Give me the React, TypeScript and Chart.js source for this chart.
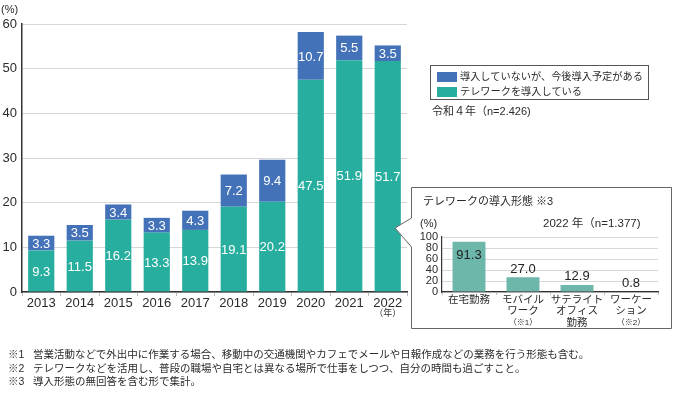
import React, { useEffect, useRef } from 'react';
import { Chart, registerables } from 'chart.js';

Chart.register(...registerables);

// ---- data ----
const years = ['2013', '2014', '2015', '2016', '2017', '2018', '2019', '2020', '2021', '2022'];
const introduced = [9.3, 11.5, 16.2, 13.3, 13.9, 19.1, 20.2, 47.5, 51.9, 51.7];
const planned = [3.3, 3.5, 3.4, 3.3, 4.3, 7.2, 9.4, 10.7, 5.5, 3.5];
const seriesNames = ['導入していないが、今後導入予定がある', 'テレワークを導入している'];
const formCategories = [
  ['在宅勤務'],
  ['モバイル', 'ワーク', '（※1）'],
  ['サテライト', 'オフィス', '勤務'],
  ['ワーケー', 'ション', '（※2）'],
];
const formValues = [91.3, 27.0, 12.9, 0.8];
const footnotes = [
  ['※1', '営業活動などで外出中に作業する場合、移動中の交通機関やカフェでメールや日報作成などの業務を行う形態も含む。'],
  ['※2', 'テレワークなどを活用し、普段の職場や自宅とは異なる場所で仕事をしつつ、自分の時間も過ごすこと。'],
  ['※3', '導入形態の無回答を含む形で集計。'],
];

const BLUE = '#4472b8';
const TEAL = '#27ae9f';
const INSET = '#6cb7aa';
const LAT = '"Liberation Sans", Arial, sans-serif';
const JP = '"Liberation Sans", "Noto Sans CJK JP", sans-serif';
const TXT = '#2b2b2b';

const mainLabels = {
  id: 'mainLabels',
  afterDatasetsDraw(chart: any) {
    const ctx = chart.ctx;
    ctx.save();
    ctx.font = '13px ' + LAT;
    ctx.fillStyle = '#ffffff';
    ctx.textAlign = 'center';
    ctx.textBaseline = 'middle';
    chart.data.datasets.forEach((ds: any, di: number) => {
      const meta = chart.getDatasetMeta(di);
      meta.data.forEach((el: any, i: number) => {
        const v = ds.data[i];
        ctx.fillText(v.toFixed(1), el.x, (el.y + el.base) / 2 + 1);
      });
    });
    const xs = chart.scales.x;
    ctx.fillStyle = TXT;
    ctx.font = '9px ' + JP;
    ctx.fillText('（年）', xs.getPixelForValue(years.length - 1), 314);
    ctx.restore();
  },
};

const insetLabels = {
  id: 'insetLabels',
  afterDatasetsDraw(chart: any) {
    const ctx = chart.ctx;
    ctx.save();
    ctx.textAlign = 'center';
    ctx.textBaseline = 'middle';
    const meta = chart.getDatasetMeta(0);
    const ds = chart.data.datasets[0];
    ctx.fillStyle = '#222';
    ctx.font = '13px ' + LAT;
    meta.data.forEach((el: any, i: number) => {
      const v = ds.data[i];
      const y = v > 80 ? el.y + 14 : el.y - 8;
      ctx.fillText(v.toFixed(1), el.x, y);
    });
    const xs = chart.scales.x;
    const base = xs.top;
    formCategories.forEach((lines, i) => {
      const x = xs.getPixelForValue(i);
      lines.forEach((ln, j) => {
        const small = ln.startsWith('（');
        ctx.font = (small ? '8px ' : '10.5px ') + JP;
        ctx.fillStyle = TXT;
        ctx.fillText(ln, x, base + 8 + j * 11.5);
      });
    });
    ctx.restore();
  },
};

export default function App() {
  const mainRef = useRef<HTMLCanvasElement>(null);
  const insetRef = useRef<HTMLCanvasElement>(null);

  useEffect(() => {
    const main = new Chart(mainRef.current!, {
      type: 'bar',
      data: {
        labels: years,
        datasets: [
          { label: seriesNames[1], data: introduced, backgroundColor: TEAL, borderWidth: 0 },
          { label: seriesNames[0], data: planned, backgroundColor: BLUE, borderWidth: 0 },
        ],
      },
      options: {
        responsive: false,
        animation: false,
        devicePixelRatio: 1,
        layout: { padding: { left: 0, right: 267, top: 24, bottom: 0 } },
        plugins: { legend: { display: false }, tooltip: { enabled: false } },
        datasets: { bar: { categoryPercentage: 1, barPercentage: 0.68 } },
        scales: {
          x: {
            stacked: true,
            afterFit: (s: any) => { s.height = 103; },
            grid: { drawOnChartArea: false, drawTicks: true, tickLength: 4, color: '#bdbdbd', offset: true },
            border: { color: '#333', width: 1.5 },
            ticks: { color: TXT, font: { family: LAT, size: 13 }, padding: 0, maxRotation: 0 },
          },
          y: {
            stacked: true,
            min: 0,
            max: 60,
            afterFit: (s: any) => { s.width = 22; },
            grid: { color: '#d6d6d6', drawTicks: false },
            border: { color: '#333', width: 1.5 },
            ticks: { stepSize: 10, color: TXT, font: { family: LAT, size: 13 }, padding: 5 },
          },
        },
      },
      plugins: [mainLabels],
    } as any);

    const inset = new Chart(insetRef.current!, {
      type: 'bar',
      data: {
        labels: formCategories.map((c) => c.join('')),
        datasets: [{ label: 'テレワークの導入形態', data: formValues, backgroundColor: INSET, borderWidth: 0 }],
      },
      options: {
        responsive: false,
        animation: false,
        devicePixelRatio: 1,
        layout: { padding: { left: 0, right: 14, top: 51, bottom: 0 } },
        plugins: { legend: { display: false }, tooltip: { enabled: false } },
        datasets: { bar: { categoryPercentage: 1, barPercentage: 0.61 } },
        scales: {
          x: {
            afterFit: (s: any) => { s.height = 36; },
            grid: { drawOnChartArea: false, drawTicks: true, tickLength: 3, color: '#bdbdbd', offset: true },
            border: { color: '#333', width: 1.2 },
            ticks: { display: false },
          },
          y: {
            min: 0,
            max: 100,
            afterFit: (s: any) => { s.width = 31; },
            grid: { color: '#d6d6d6', drawTicks: false },
            border: { color: '#333', width: 1.2 },
            ticks: { stepSize: 20, autoSkip: false, color: TXT, font: { family: LAT, size: 11, lineHeight: 1 }, padding: 4 },
          },
        },
      },
      plugins: [insetLabels],
    } as any);

    return () => {
      main.destroy();
      inset.destroy();
    };
  }, []);

  const abs = (l: number, t: number, extra: any = {}) => ({ position: 'absolute' as const, left: l, top: t, ...extra });
  const txt = (size: number) => ({ fontFamily: JP, fontSize: size, color: TXT, whiteSpace: 'nowrap' as const, lineHeight: 1 });

  return (
    <div style={{ position: 'absolute', left: 0, top: 0, width: 674, height: 395, background: '#fff', overflow: 'hidden' }}>
      <canvas ref={mainRef} width={674} height={395} style={abs(0, 0, { width: 674, height: 395 })} />
      <div style={abs(1, 4, txt(11))}>(%)</div>

      {/* legend */}
      <div style={abs(430, 65, { width: 219, height: 35, border: '1px solid #555', boxSizing: 'border-box', background: '#fff' })}>
        <div style={abs(6, 6, { width: 20, height: 10, background: BLUE })} />
        <div style={abs(29, 6, txt(10.2))}>{seriesNames[0]}</div>
        <div style={abs(6, 21, { width: 20, height: 10, background: TEAL })} />
        <div style={abs(29, 21, txt(10.2))}>{seriesNames[1]}</div>
      </div>
      <div style={abs(432, 106, txt(11))}>令和４年（n=2.426)</div>

      {/* inset box with pointer */}
      <svg width={674} height={395} style={abs(0, 0)}>
        <path d="M411.5 187.5 L671.5 187.5 L671.5 328.5 L411.5 328.5 L411.5 247 L395 228 L411.5 218 Z" fill="#fff" stroke="#666" strokeWidth={1} />
      </svg>
      <canvas ref={insetRef} width={261} height={142} style={abs(411, 186, { width: 261, height: 142 })} />
      <div style={abs(423, 196, txt(11))}>テレワークの導入形態 ※3</div>
      <div style={abs(420, 218, txt(11))}>(%)</div>
      <div style={abs(543, 218, txt(11.5))}>2022 年（n=1.377)</div>

      {/* footnotes */}
      {footnotes.map((f, i) => (
        <div key={i} style={abs(8, 349 + i * 13.5, txt(10.5))}>
          <span style={{ display: 'inline-block', width: 25 }}>{f[0]}</span>
          {f[1]}
        </div>
      ))}
    </div>
  );
}
